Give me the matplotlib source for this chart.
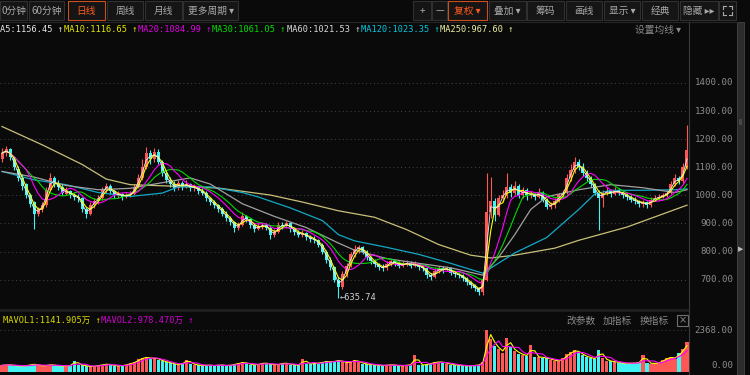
import matplotlib
matplotlib.use('Agg')
import matplotlib.pyplot as plt
import matplotlib.patches as mpatches
from matplotlib.transforms import blended_transform_factory
import numpy as np
import pandas as pd

plt.rcParams['font.family'] = ['Noto Sans CJK SC', 'DejaVu Sans']

# ---- daily candles (each ~3 trading days) ----
opens = [1130, 1150, 1165, 1135, 1095, 1060, 1040, 1000, 975, 935,
         950, 965, 1020, 1060, 1045, 1030, 1005, 1015, 1000, 995,
         990, 950, 935, 965, 980, 990, 1020, 1035, 1015, 1000,
         1005, 995, 1000, 1005, 1030, 1060, 1100, 1150, 1130, 1155,
         1120, 1080, 1055, 1040, 1025, 1045, 1030, 1040, 1025, 1030,
         1015, 1010, 990, 975, 965, 950, 935, 920, 905, 885,
         895, 925, 915, 895, 880, 890, 895, 885, 860, 870,
         895, 890, 900, 880, 870, 860, 865, 850, 845, 840,
         825, 800, 770, 745, 700, 675, 720, 750, 790, 810,
         815, 800, 780, 765, 755, 745, 740, 755, 765, 760,
         750, 755, 760, 750, 755, 745, 740, 715, 710, 730,
         740, 735, 740, 725, 720, 715, 705, 690, 680, 670,
         655, 700, 940, 980, 930, 990, 1000, 1030, 1010, 1035,
         1000, 1020, 1000, 1005, 995, 1010, 985, 960, 965, 980,
         1000, 1010, 1060, 1090, 1120, 1100, 1080, 1060, 1040, 1010,
         990, 1010, 1015, 1005, 1020, 1010, 1000, 995, 985, 980,
         970, 975, 965, 985, 990, 995, 1000, 1010, 1040, 1060,
         1050, 1100]
closes = [1150, 1165, 1135, 1100, 1060, 1035, 1000, 970, 935, 950,
          965, 1020, 1060, 1040, 1030, 1010, 1015, 1000, 995, 990,
          950, 935, 965, 980, 990, 1020, 1035, 1015, 1000, 1005,
          995, 1000, 1005, 1030, 1060, 1100, 1150, 1130, 1155, 1120,
          1080, 1055, 1040, 1025, 1045, 1030, 1040, 1025, 1030, 1015,
          1010, 990, 975, 965, 950, 935, 920, 905, 885, 895,
          925, 915, 895, 880, 890, 895, 885, 860, 870, 895,
          890, 900, 880, 870, 860, 865, 850, 845, 840, 825,
          800, 770, 745, 700, 675, 720, 750, 790, 810, 815,
          800, 780, 765, 755, 745, 740, 755, 765, 760, 750,
          755, 760, 750, 755, 745, 740, 715, 710, 730, 740,
          735, 740, 725, 720, 715, 705, 690, 680, 670, 655,
          700, 940, 980, 930, 990, 1000, 1030, 1010, 1035, 1000,
          1020, 1000, 1005, 995, 1010, 985, 960, 965, 980, 1000,
          1010, 1060, 1090, 1120, 1100, 1080, 1060, 1040, 1010, 990,
          1010, 1015, 1005, 1020, 1010, 1000, 995, 985, 980, 970,
          975, 965, 985, 990, 995, 1000, 1010, 1040, 1060, 1050,
          1100, 1160]
highs = [1170, 1175, 1170, 1140, 1105, 1075, 1045, 1010, 980, 960,
         975, 1030, 1080, 1070, 1055, 1040, 1030, 1020, 1010, 1005,
         995, 960, 975, 990, 1000, 1030, 1045, 1040, 1020, 1015,
         1010, 1010, 1015, 1040, 1075, 1130, 1172, 1160, 1170, 1165,
         1125, 1090, 1065, 1050, 1055, 1050, 1055, 1045, 1040, 1035,
         1025, 1015, 995, 985, 970, 960, 945, 925, 910, 905,
         940, 930, 920, 900, 900, 905, 900, 890, 880, 905,
         905, 910, 905, 885, 875, 875, 870, 860, 855, 845,
         830, 805, 780, 750, 710, 730, 760, 800, 825, 825,
         820, 805, 785, 775, 760, 755, 765, 775, 770, 765,
         765, 770, 765, 765, 760, 750, 745, 725, 740, 750,
         748, 750, 745, 730, 725, 720, 710, 695, 685, 675,
         710, 1080, 1065, 990, 1000, 1020, 1080, 1040, 1050, 1040,
         1030, 1025, 1015, 1010, 1025, 1015, 990, 975, 990, 1010,
         1020, 1075, 1110, 1136, 1130, 1115, 1090, 1070, 1045, 1020,
         1020, 1030, 1020, 1030, 1025, 1015, 1010, 1000, 995, 985,
         985, 980, 995, 1000, 1005, 1010, 1020, 1050, 1075, 1070,
         1115, 1250]
lows = [1120, 1140, 1125, 1090, 1050, 1020, 990, 960, 880, 925,
        940, 960, 1015, 1030, 1020, 1000, 1000, 990, 985, 975,
        940, 920, 930, 955, 970, 985, 1010, 1005, 990, 990,
        985, 990, 995, 1000, 1025, 1055, 1095, 1110, 1120, 1110,
        1070, 1045, 1030, 1015, 1020, 1020, 1025, 1015, 1015, 1005,
        1000, 980, 965, 955, 940, 925, 910, 895, 870, 875,
        890, 905, 885, 870, 875, 880, 875, 845, 850, 865,
        880, 885, 870, 860, 850, 850, 840, 835, 830, 815,
        790, 760, 735, 690, 636, 665, 710, 745, 780, 795,
        790, 770, 755, 745, 735, 730, 735, 750, 750, 740,
        745, 748, 740, 745, 735, 730, 705, 700, 705, 725,
        725, 730, 715, 710, 705, 695, 680, 670, 660, 645,
        645, 695, 920, 910, 925, 975, 990, 995, 1000, 990,
        990, 985, 990, 985, 990, 975, 950, 950, 955, 975,
        990, 1005, 1050, 1080, 1090, 1070, 1050, 1030, 1000, 877,
        960, 1000, 995, 1000, 1000, 990, 985, 975, 970, 960,
        960, 955, 960, 980, 985, 990, 995, 1005, 1035, 1040,
        1045, 1095]
volumes = [380, 420, 400, 360, 350, 330, 380, 420, 450, 380,
           330, 400, 420, 380, 350, 330, 360, 380, 640, 420,
           380, 330, 300, 340, 380, 420, 460, 400, 360, 340,
           380, 420, 500, 560, 720, 800, 850, 760, 820, 700,
           620, 560, 500, 450, 400, 520, 700, 480, 420, 380,
           360, 400, 380, 350, 420, 380, 360, 400, 450, 500,
           560, 480, 420, 400, 460, 520, 480, 440, 400, 450,
           520, 480, 420, 400, 380, 740, 480, 450, 500, 520,
           560, 600, 580, 620, 680, 560, 520, 600, 680, 560,
           480, 440, 420, 400, 380, 360, 400, 420, 380, 350,
           360, 400, 420, 950, 420, 380, 450, 500, 560, 580,
           540, 480, 420, 400, 380, 360, 340, 360, 380, 420,
           570, 2368, 1900, 1500, 1300, 1100, 1940, 1400, 1200, 1050,
           980, 900, 1540, 880, 850, 820, 780, 700, 650, 620,
           800, 1000, 1150, 1250, 1100, 950, 850, 800, 720, 1250,
           800, 650, 600, 580, 520, 500, 480, 520, 500, 560,
           970, 520, 480, 500, 540, 700, 800, 850, 760, 1100,
           1300, 1700]

# long moving averages (candle index -> value)
ma60_idx = [0, 8, 16, 24, 32, 40, 47, 52, 60, 68, 76, 84, 88, 96, 104, 112, 120,
            124, 128, 132, 136, 144, 152, 160, 168, 171]
ma60_val = [1085, 1065, 1035, 1020, 1025, 1045, 1062, 1040, 970, 925, 885, 830, 805,
            775, 758, 742, 716, 780, 860, 950, 995, 1020, 1038, 1027, 1010, 1020]
ma120_idx = [0, 8, 16, 24, 32, 40, 44, 52, 60, 64, 72, 80, 84, 88, 96, 104, 112, 120,
             128, 136, 144, 148, 152, 160, 168, 171]
ma120_val = [1085, 1055, 1038, 1010, 996, 1008, 1030, 1030, 1010, 994, 955, 910, 860,
             838, 815, 790, 758, 723, 795, 850, 950, 1005, 1018, 1018, 1020, 1023]
ma250_idx = [0, 10, 20, 26, 32, 44, 54, 67, 75, 84, 93, 101, 109, 117, 122, 128, 138,
             144, 156, 171]
ma250_val = [1245, 1180, 1110, 1058, 1038, 1032, 1026, 1001, 976, 945, 922, 878, 825,
             787, 777, 787, 812, 840, 887, 965]

legend_labels = ["A5:1156.45", "MA10:1116.65", "MA20:1084.99", "MA30:1061.05",
                 "MA60:1021.53", "MA120:1023.35", "MA250:967.60"]
price_ticks = [700, 800, 900, 1000, 1100, 1200, 1300, 1400]
vol_ticks = [0, 2368]
low_label = "635.74"

left_buttons = ["0分钟", "60分钟", "日线", "周线", "月线", "更多周期 ▾"]
right_buttons = ["+", "—", "复权 ▾", "叠加 ▾", "筹码", "画线", "显示 ▾", "经典", "隐藏 ▸▸"]

# ---- layout / style ----
BG = '#0a0a0a'
RED = '#ff5656'
CYAN = '#40f4f4'
MONO = ['DejaVu Sans Mono', 'Noto Sans CJK SC']
CJK = ['Noto Sans CJK SC', 'DejaVu Sans']

o = np.array(opens, float)
c = np.array(closes, float)
h = np.array(highs, float)
l = np.array(lows, float)
v = np.array(volumes, float)
n = len(c)
x = np.arange(n)
up = c >= o
col = np.where(up, RED, CYAN)

cs = pd.Series(c)
ma5 = cs.rolling(2, min_periods=1).mean()
ma10 = cs.rolling(3, min_periods=1).mean()
ma20 = cs.rolling(7, min_periods=1).mean()
ma30 = cs.rolling(10, min_periods=1).mean()
vs = pd.Series(v)
mavol1 = vs.rolling(2, min_periods=1).mean()
mavol2 = vs.rolling(4, min_periods=1).mean()

fig = plt.figure(figsize=(7.5, 3.75), dpi=100, facecolor=BG)
ui = fig.add_axes([0, 0, 1, 1])
ui.set_xlim(0, 750)
ui.set_ylim(375, 0)
ui.axis('off')

# toolbar
lb_pos = [(0, 27), (29, 64), (68, 105), (107, 143), (145, 182), (183, 238)]
rb_pos = [(413, 431), (432, 447), (448, 487), (489, 526), (527, 564), (566, 602),
          (604, 640), (642, 678), (680, 718)]
for labels, poses, active in [(left_buttons, lb_pos, 2), (right_buttons, rb_pos, 2)]:
    for k, (lab, (x0, x1)) in enumerate(zip(labels, poses)):
        on = k == active
        ui.add_patch(mpatches.Rectangle((x0, 1), x1 - x0, 19, facecolor='#151515',
                                        edgecolor='#c8501e' if on else '#303030', lw=0.8))
        ui.text((x0 + x1) / 2, 11, lab, ha='center', va='center', fontsize=7,
                family=CJK, color='#ff5a1e' if on else '#a8a8a8')
# full-screen icon
ui.add_patch(mpatches.Rectangle((719, 1), 17, 19, facecolor='#151515', edgecolor='#303030', lw=0.8))
for cx, cy, dx, dy in [(723, 6, 1, 1), (732, 6, -1, 1), (723, 15, 1, -1), (732, 15, -1, -1)]:
    ui.plot([cx, cx], [cy, cy + 3 * dy], color='#a8a8a8', lw=0.8)
    ui.plot([cx, cx + 3 * dx], [cy, cy], color='#a8a8a8', lw=0.8)
ui.plot([0, 737], [21.5, 21.5], color='#262626', lw=0.8)

# MA legend row
leg_x = [0, 64, 138, 212, 287, 361, 440]
leg_col = ['#e6e6e6', '#e6e600', '#e000e0', '#00e000', '#d8d8d8', '#00c8e0', '#f0f0a0']
for lab, lx, lc in zip(legend_labels, leg_x, leg_col):
    ui.text(lx, 30, lab + " ↑", ha='left', va='center', fontsize=6.2, family=MONO, color=lc)
ui.text(635, 30, "设置均线 ▾", ha='left', va='center', fontsize=7, family=CJK, color='#8a8a8a')

# separators and right-side strip
ui.add_patch(mpatches.Rectangle((0, 308.5), 689, 3.5, facecolor='#1e1e1e', lw=0))
ui.plot([689, 689], [22, 375], color='#3a3a3a', lw=0.8)
ui.add_patch(mpatches.Rectangle((737, 22), 7, 353, facecolor='#2c2c2c', edgecolor='#444444', lw=0.6))
ui.text(740.5, 122, "|||", ha='center', va='center', fontsize=4, color='#777777')
ui.text(740.5, 249, "▶", ha='center', va='center', fontsize=5, color='#bbbbbb', family=['DejaVu Sans'])

# price panel
ax = fig.add_axes([0, 67 / 375, 689 / 750, 270 / 375])
ax.set_facecolor('none')
ax.set_xlim(-0.5, n - 0.5)
ax.set_ylim(599, 1560)
ax.set_xticks([])
ax.set_yticks([])
for s in ax.spines.values():
    s.set_visible(False)
for p in price_ticks:
    ax.axhline(p, color='#3e3e3e', lw=0.8, ls=(0, (1, 2.5)), zorder=0)

ax.vlines(x, l, h, colors=col, lw=0.8, zorder=2)
body = np.maximum(np.abs(c - o), 3)
ax.bar(x, body, bottom=np.minimum(o, c), width=0.75, color=col, lw=0, zorder=2)

ax.plot(ma250_idx, ma250_val, color='#c8c078', lw=0.9, zorder=3)
ax.plot(ma120_idx, ma120_val, color='#12a8c4', lw=0.9, zorder=3)
ax.plot(ma60_idx, ma60_val, color='#a0a0a0', lw=0.9, zorder=3)
ax.plot(x, ma30, color='#00d800', lw=0.8, zorder=3)
ax.plot(x, ma20, color='#ff00ff', lw=0.8, zorder=3)
ax.plot(x, ma10, color='#ffff00', lw=0.8, zorder=3)
ax.plot(x, ma5, color='#f0f0f0', lw=0.6, zorder=3)

imin = int(np.argmin(l))
ax.text(imin + 0.4, l[imin], "←" + low_label, ha='left', va='center', fontsize=6.2,
        family=MONO, color='#d0d0d0', zorder=4)

tp = blended_transform_factory(fig.transFigure, ax.transData)
for p in price_ticks:
    ax.text(733 / 750, p, f"{p:.2f}", transform=tp, ha='right', va='center',
            fontsize=6.6, family=MONO, color='#8c8c8c')

# volume panel
vx = fig.add_axes([0, 3 / 375, 689 / 750, 60 / 375])
vx.set_facecolor('none')
vx.set_xlim(-0.5, n - 0.5)
vx.set_ylim(0, 3420)
vx.set_xticks([])
vx.set_yticks([])
for s in vx.spines.values():
    s.set_visible(False)
vx.axhline(vol_ticks[1], color='#3e3e3e', lw=0.8, ls=(0, (1, 2.5)), zorder=0)
vx.bar(x, v, width=0.8, color=col, lw=0, zorder=2)
vx.plot(x, mavol1, color='#ffff00', lw=0.8, zorder=3)
vx.plot(x, mavol2, color='#ff00ff', lw=0.8, zorder=3)

tv = blended_transform_factory(fig.transFigure, vx.transData)
vx.text(733 / 750, vol_ticks[1], f"{vol_ticks[1]:.2f}", transform=tv, ha='right', va='center',
        fontsize=6.6, family=MONO, color='#8c8c8c')
vx.text(733 / 750, 370, f"{vol_ticks[0]:.2f}", transform=tv, ha='right', va='center',
        fontsize=6.6, family=MONO, color='#8c8c8c')

ui.text(3, 320.5, "MAVOL1:1141.905万 ↑", ha='left', va='center', fontsize=6.2,
        family=MONO, color='#d8d800')
ui.text(101, 320.5, "MAVOL2:978.470万 ↑", ha='left', va='center', fontsize=6.2,
        family=MONO, color='#d000d0')
for lab, lx in zip(["改参数", "加指标", "换指标"], [566, 603, 640]):
    ui.text(lx, 320.5, lab, ha='left', va='center', fontsize=7, family=CJK, color='#8a8a8a')
ui.add_patch(mpatches.Rectangle((677, 315), 11, 11, facecolor='none', edgecolor='#707070', lw=0.8))
ui.text(682.5, 320.5, "×", ha='center', va='center', fontsize=7, color='#8a8a8a', family=['DejaVu Sans'])

fig.savefig('out.png', dpi=100, facecolor=BG)
